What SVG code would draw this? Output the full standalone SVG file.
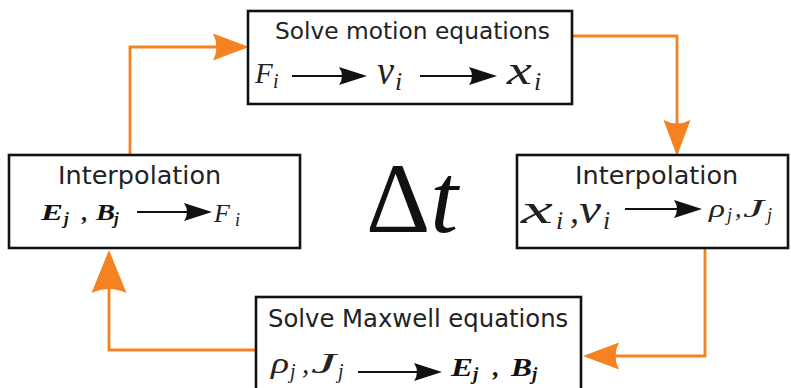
<svg xmlns="http://www.w3.org/2000/svg" width="791" height="388" viewBox="0 0 791 388">
<style>
.box{fill:#fff;stroke:#111;stroke-width:2.6}
.lbl{font-family:"DejaVu Sans",sans-serif;fill:#222}
.m{font-family:"Liberation Serif",serif;font-style:italic;fill:#222}
.mb{font-family:"Liberation Serif",serif;font-style:italic;font-weight:bold;fill:#111}
.oc{fill:none;stroke:#F58220;stroke-width:2.8}
.bc{fill:none;stroke:#111;stroke-width:2.2}
</style>
<defs>
<marker id="oa" markerUnits="userSpaceOnUse" orient="auto" refX="-8" refY="0" overflow="visible">
<path d="M0,0 L-36,-13.5 Q-29,0 -36,13.5 Z" fill="#F58220"/>
</marker>
<marker id="oaL" markerUnits="userSpaceOnUse" orient="auto" refX="-8" refY="0" overflow="visible">
<path d="M0,0 L-43,-17.5 Q-35,0 -43,17.5 Z" fill="#F58220"/>
</marker>
<marker id="ba" markerUnits="userSpaceOnUse" orient="auto" refX="-6" refY="0" overflow="visible">
<path d="M0,0 L-28,-9 Q-22,0 -28,9 Z" fill="#111"/>
</marker>
</defs>
<rect width="791" height="388" fill="#fff"/>
<g id="connectors">
<path class="oc" d="M130,155 V47 H241" marker-end="url(#oa)"/>
<path class="oc" d="M572,36 H677 V148" marker-end="url(#oa)"/>
<path class="oc" d="M705,249 V356 H591" marker-end="url(#oa)"/>
<path class="oc" d="M256,350 H109 V258" marker-end="url(#oaL)"/>
</g>
<g id="motion">
<rect class="box" x="248" y="11" width="324" height="93"/>
<text class="lbl" x="275" y="39" font-size="23.3">Solve motion equations</text>
<text class="m" x="255" y="83" font-size="29">F</text><text class="m" x="273" y="88" font-size="20">i</text>
<path class="bc" d="M292,76 H361" marker-end="url(#ba)"/>
<text class="m" x="377" y="84" font-size="41" textLength="17" lengthAdjust="spacingAndGlyphs">v</text><text class="m" x="395" y="90" font-size="26">i</text>
<path class="bc" d="M420,76 H491" marker-end="url(#ba)"/>
<text class="m" x="507" y="84" font-size="41" textLength="25" lengthAdjust="spacingAndGlyphs">x</text><text class="m" x="534" y="90" font-size="26">i</text>
</g>
<g id="interp-left">
<rect class="box" x="9" y="155" width="291" height="93"/>
<text class="lbl" x="58" y="184" font-size="25.5">Interpolation</text>
<text class="mb" x="41" y="220" font-size="24" textLength="22" lengthAdjust="spacingAndGlyphs">E</text><text class="mb" x="64" y="224" font-size="17">j</text>
<text class="mb" x="82" y="220" font-size="24">,</text>
<text class="mb" x="96" y="220" font-size="24" textLength="19" lengthAdjust="spacingAndGlyphs">B</text><text class="mb" x="114" y="224" font-size="17">j</text>
<path class="bc" d="M137,212 H206" marker-end="url(#ba)"/>
<text class="m" x="214" y="222" font-size="26">F</text><text class="m" x="235" y="226" font-size="18">i</text>
</g>
<g id="interp-right">
<rect class="box" x="517" y="155" width="271" height="93"/>
<text class="lbl" x="575" y="184" font-size="25.5">Interpolation</text>
<text class="m" x="521" y="223" font-size="40" textLength="32" lengthAdjust="spacingAndGlyphs">x</text><text class="m" x="556" y="229" font-size="26">i</text>
<text class="m" x="570" y="223" font-size="36">,</text>
<text class="m" x="579" y="223" font-size="40" textLength="22" lengthAdjust="spacingAndGlyphs">v</text><text class="m" x="603" y="229" font-size="26">i</text>
<path class="bc" d="M625,209 H696" marker-end="url(#ba)"/>
<text class="m" x="709" y="217" font-size="26" textLength="16" lengthAdjust="spacingAndGlyphs">ρ</text><text class="m" x="727" y="221" font-size="18">j</text>
<text class="m" x="735" y="217" font-size="26">,</text>
<text class="m" x="743" y="217" font-size="26" textLength="21" lengthAdjust="spacingAndGlyphs">J</text><text class="m" x="767" y="221" font-size="18">j</text>
</g>
<g id="maxwell">
<rect class="box" x="256" y="297" width="325" height="100"/>
<text class="lbl" x="268" y="327" font-size="24.3">Solve Maxwell equations</text>
<text class="m" x="271" y="373" font-size="29" textLength="18" lengthAdjust="spacingAndGlyphs">ρ</text><text class="m" x="290" y="378" font-size="20">j</text>
<text class="m" x="302" y="373" font-size="29">,</text>
<text class="m" x="311" y="373" font-size="29" textLength="25" lengthAdjust="spacingAndGlyphs">J</text><text class="m" x="338" y="378" font-size="20">j</text>
<path class="bc" d="M358,372 H436" marker-end="url(#ba)"/>
<text class="mb" x="451" y="376" font-size="26" textLength="22" lengthAdjust="spacingAndGlyphs">E</text><text class="mb" x="473" y="380" font-size="19">j</text>
<text class="mb" x="493" y="376" font-size="26">,</text>
<text class="mb" x="511" y="376" font-size="26" textLength="21" lengthAdjust="spacingAndGlyphs">B</text><text class="mb" x="532" y="380" font-size="19">j</text>
</g>
<g id="dt">
<text x="366" y="232" font-family="Liberation Serif,serif" font-size="100" fill="#111">Δ<tspan font-style="italic">t</tspan></text>
</g>
</svg>
